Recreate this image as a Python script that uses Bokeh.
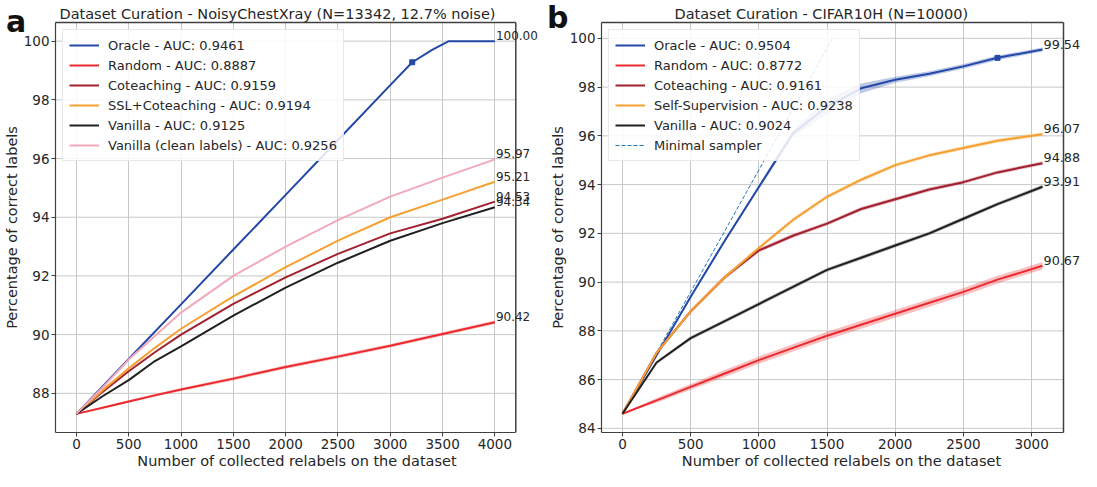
from bokeh.plotting import figure
from bokeh.models import (ColumnDataSource, LabelSet, Legend, LegendItem,
                          Range1d, FixedTicker, Div)
from bokeh.core.properties import value
from bokeh.layouts import row
from bokeh.embed import file_html
from bokeh.resources import INLINE

# ---------------- Panel a : NoisyChestXray ----------------
A_X = [0, 250, 500, 750, 1000, 1500, 2000, 2500, 3000, 3500, 4000]
A_ORACLE_X = [0, 500, 1000, 1500, 2000, 2500, 3000, 3210, 3400, 3560, 4000]
A_ORACLE = [87.3, 89.17, 91.03, 92.9, 94.76, 96.63, 98.5, 99.28, 99.7, 100.0, 100.0]
A_RANDOM = [87.3, 87.51, 87.72, 87.93, 88.13, 88.5, 88.9, 89.25, 89.62, 90.02, 90.42]
A_COTEACH = [87.3, 88.05, 88.75, 89.4, 90.0, 91.05, 91.95, 92.75, 93.45, 93.95, 94.53]
A_SSL = [87.3, 88.1, 88.85, 89.55, 90.2, 91.3, 92.3, 93.2, 94.0, 94.6, 95.21]
A_VANILLA = [87.3, 87.9, 88.45, 89.1, 89.6, 90.65, 91.6, 92.45, 93.2, 93.8, 94.34]
A_CLEAN = [87.3, 88.2, 89.15, 89.95, 90.75, 92.0, 93.0, 93.9, 94.7, 95.35, 95.97]
A_RANDOM_STD = [0.0, 0.03, 0.04, 0.05, 0.05, 0.06, 0.06, 0.06, 0.06, 0.06, 0.06]
A_MARK_X = [3210]
A_MARK_Y = [99.28]
A_LEGEND = ["Oracle - AUC: 0.9461", "Random - AUC: 0.8887", "Coteaching - AUC: 0.9159",
            "SSL+Coteaching - AUC: 0.9194", "Vanilla - AUC: 0.9125",
            "Vanilla (clean labels) - AUC: 0.9256"]
A_TITLE = "Dataset Curation - NoisyChestXray (N=13342, 12.7% noise)"
A_XTICKS = [0, 500, 1000, 1500, 2000, 2500, 3000, 3500, 4000]
A_YTICKS = [88, 90, 92, 94, 96, 98, 100]

# ---------------- Panel b : CIFAR10H ----------------
B_X = [0, 250, 500, 750, 1000, 1250, 1500, 1750, 2000, 2250, 2500, 2750, 3080]
B_ORACLE = [84.6, 87.0, 89.4, 91.7, 93.9, 96.1, 97.2, 97.95, 98.3, 98.55, 98.85, 99.2, 99.54]
B_ORACLE_STD = [0.0, 0.05, 0.06, 0.07, 0.08, 0.15, 0.3, 0.2, 0.12, 0.1, 0.1, 0.1, 0.08]
B_RANDOM = [84.6, 85.15, 85.7, 86.25, 86.8, 87.3, 87.8, 88.25, 88.7, 89.15, 89.6, 90.1, 90.67]
B_RANDOM_STD = [0.0, 0.1, 0.12, 0.14, 0.15, 0.15, 0.16, 0.16, 0.16, 0.16, 0.16, 0.16, 0.15]
B_COTEACH = [84.6, 87.1, 88.8, 90.2, 91.3, 91.9, 92.4, 93.0, 93.4, 93.8, 94.1, 94.5, 94.88]
B_SSL = [84.6, 87.1, 88.8, 90.2, 91.4, 92.55, 93.5, 94.2, 94.8, 95.2, 95.5, 95.8, 96.07]
B_VANILLA = [84.6, 86.7, 87.7, 88.4, 89.1, 89.8, 90.5, 91.0, 91.5, 92.0, 92.6, 93.2, 93.91]
B_STD = [0.0, 0.06, 0.08, 0.08, 0.08, 0.08, 0.08, 0.08, 0.08, 0.08, 0.08, 0.08, 0.08]
B_MIN_X = [0, 1540]
B_MIN_Y = [84.6, 100.0]
B_MARK_X = [2750]
B_MARK_Y = [99.2]
B_LEGEND = ["Oracle - AUC: 0.9504", "Random - AUC: 0.8772", "Coteaching - AUC: 0.9161",
            "Self-Supervision - AUC: 0.9238", "Vanilla - AUC: 0.9024", "Minimal sampler"]
B_TITLE = "Dataset Curation - CIFAR10H (N=10000)"
B_XTICKS = [0, 500, 1000, 1500, 2000, 2500, 3000]
B_YTICKS = [84, 86, 88, 90, 92, 94, 96, 98, 100]

XLABEL = "Number of collected relabels on the dataset"
YLABEL = "Percentage of correct labels"

C_ORACLE = "#2448a8"
C_RANDOM = "#ec2a2e"
C_COTEACH = "#a3202f"
C_SSL = "#f6a032"
C_VANILLA = "#202020"
C_CLEAN = "#f2a9ba"
C_MIN = "#1f77b4"

FONT = "DejaVu Sans"
TXT = "#262626"
SPINE = "#404040"
GRID = "#c8c8c8"


def make_fig(width, title, xr, yr, bl, br, xticks, yticks, title_offset):
    # axes box spans xr[0]..xr[1]; the frame goes a little further right for the end labels
    p = figure(width=width, height=471, output_backend="svg", toolbar_location=None,
               x_range=Range1d(xr[0], xr[2]), y_range=Range1d(*yr),
               min_border_left=bl, min_border_right=br, min_border_top=22,
               min_border_bottom=30, title=title, x_axis_label=XLABEL,
               y_axis_label=YLABEL)
    p.title.text_font = FONT
    p.title.text_font_size = "14.5px"
    p.title.text_font_style = "normal"
    p.title.text_color = TXT
    p.title.align = "left"
    p.title.standoff = 2
    p.title.offset = title_offset
    p.outline_line_color = None
    for ax in (p.xaxis, p.yaxis):
        ax.axis_label_text_font = FONT
        ax.axis_label_text_font_size = "14.5px"
        ax.axis_label_text_font_style = "normal"
        ax.axis_label_text_color = TXT
        ax.axis_label_standoff = 1
        ax.major_label_text_font = FONT
        ax.major_label_text_font_size = "13.5px"
        ax.major_label_text_color = TXT
        ax.major_label_standoff = 2
        ax.axis_line_color = SPINE
        ax.axis_line_width = 1.2
        ax.major_tick_line_color = SPINE
        ax.major_tick_out = 4
        ax.major_tick_in = 0
        ax.minor_tick_line_color = None
    p.xaxis.bounds = (xr[0], xr[1])
    p.xaxis.ticker = FixedTicker(ticks=xticks)
    p.yaxis.ticker = FixedTicker(ticks=yticks)
    p.xgrid.ticker = FixedTicker(ticks=xticks)
    p.xgrid.grid_line_color = GRID
    p.ygrid.visible = False
    # horizontal grid lines limited to the axes box
    p.segment(x0=[xr[0]] * len(yticks), y0=yticks, x1=[xr[1]] * len(yticks), y1=yticks,
              line_color=GRID, line_width=1, level="underlay")
    # top and right spines of the axes box
    p.segment(x0=[xr[0], xr[1]], y0=[yr[1], yr[0]], x1=[xr[1], xr[1]], y1=[yr[1], yr[1]],
              line_color=SPINE, line_width=1.5, level="guide")
    return p


def legend(p, items):
    lg = Legend(items=items, location="top_left")
    lg.label_text_font = FONT
    lg.label_text_font_size = "13px"
    lg.label_text_color = TXT
    lg.border_line_color = "#d4d4d4"
    lg.background_fill_alpha = 0.85
    lg.margin = 7
    lg.padding = 6
    lg.spacing = 2
    lg.label_height = 18
    lg.glyph_height = 18
    lg.glyph_width = 30
    lg.label_standoff = 9
    p.add_layout(lg)


def end_labels(p, xs, ys, size):
    src = ColumnDataSource(dict(x=xs, y=ys, t=["%.2f" % v for v in ys]))
    p.add_layout(LabelSet(x="x", y="y", text="t", source=src, x_offset=1, y_offset=1,
                          text_font=value(FONT), text_font_size=value(size),
                          text_color=TXT, text_baseline="alphabetic", text_align="left"))


# ---------- figure a ----------
pa = make_fig(538, A_TITLE, (-200, 4200, 4417), (86.665, 100.635), 50, 0,
              A_XTICKS, A_YTICKS, 4)
lo = [r - s for r, s in zip(A_RANDOM, A_RANDOM_STD)]
hi = [r + s for r, s in zip(A_RANDOM, A_RANDOM_STD)]
pa.varea(x=A_X, y1=lo, y2=hi, fill_color=C_RANDOM, fill_alpha=0.3)
ra_o = pa.line(A_ORACLE_X, A_ORACLE, line_color=C_ORACLE, line_width=2)
ra_r = pa.line(A_X, A_RANDOM, line_color=C_RANDOM, line_width=2)
ra_c = pa.line(A_X, A_COTEACH, line_color=C_COTEACH, line_width=2)
ra_s = pa.line(A_X, A_SSL, line_color=C_SSL, line_width=2)
ra_v = pa.line(A_X, A_VANILLA, line_color=C_VANILLA, line_width=2)
ra_k = pa.line(A_X, A_CLEAN, line_color=C_CLEAN, line_width=2)
pa.scatter(A_MARK_X, A_MARK_Y, marker="square", size=5, color=C_ORACLE)
legend(pa, [LegendItem(label=l, renderers=[r]) for l, r in
            zip(A_LEGEND, [ra_o, ra_r, ra_c, ra_s, ra_v, ra_k])])
end_labels(pa, [A_ORACLE_X[-1]] + [A_X[-1]] * 5,
           [A_ORACLE[-1], A_RANDOM[-1], A_COTEACH[-1], A_SSL[-1], A_VANILLA[-1], A_CLEAN[-1]],
           "12px")

# ---------- figure b ----------
pb = make_fig(543, B_TITLE, (-154, 3234, 3366), (83.83, 100.65), 63, 0,
              B_XTICKS, B_YTICKS, 73)
for ys, sd, c in [(B_ORACLE, B_ORACLE_STD, C_ORACLE), (B_RANDOM, B_RANDOM_STD, C_RANDOM),
                  (B_COTEACH, B_STD, C_COTEACH), (B_SSL, B_STD, C_SSL),
                  (B_VANILLA, B_STD, C_VANILLA)]:
    pb.varea(x=B_X, y1=[a - b for a, b in zip(ys, sd)], y2=[a + b for a, b in zip(ys, sd)],
             fill_color=c, fill_alpha=0.3)
rb_m = pb.line(B_MIN_X, B_MIN_Y, line_color=C_MIN, line_width=1, line_dash="4 2")
rb_o = pb.line(B_X, B_ORACLE, line_color=C_ORACLE, line_width=2)
rb_r = pb.line(B_X, B_RANDOM, line_color=C_RANDOM, line_width=2)
rb_c = pb.line(B_X, B_COTEACH, line_color=C_COTEACH, line_width=2)
rb_s = pb.line(B_X, B_SSL, line_color=C_SSL, line_width=2)
rb_v = pb.line(B_X, B_VANILLA, line_color=C_VANILLA, line_width=2)
pb.scatter(B_MARK_X, B_MARK_Y, marker="square", size=5, color=C_ORACLE)
legend(pb, [LegendItem(label=l, renderers=[r]) for l, r in
            zip(B_LEGEND, [rb_o, rb_r, rb_c, rb_s, rb_v, rb_m])])
end_labels(pb, [B_X[-1]] * 5,
           [B_ORACLE[-1], B_RANDOM[-1], B_COTEACH[-1], B_SSL[-1], B_VANILLA[-1]], "12.8px")

letter_css = {"position": "absolute", "font-family": "DejaVu Sans", "font-size": "30px",
              "font-weight": "bold", "color": "#111111", "line-height": "30px"}
div_a = Div(text="a", width=24, height=32, styles=dict(letter_css, left="1px", top="2px"))
div_b = Div(text="b", width=24, height=32,
            styles=dict(letter_css, left="542px", top="-2px"))

layout = row(pa, pb, div_a, div_b)
open("out.html", "w").write(file_html(layout, INLINE))
